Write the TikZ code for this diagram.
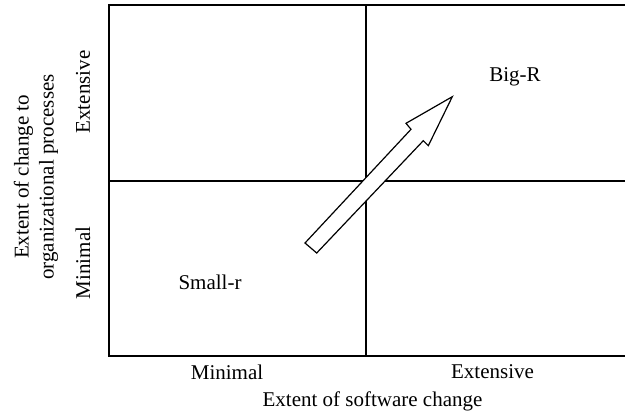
\documentclass[tikz,border=0pt]{standalone}
\usepackage{fontspec}
\setmainfont{Liberation Serif}
\begin{document}
\begin{tikzpicture}[x=0.5pt,y=-0.5pt,
  lbl/.style={inner sep=0pt,font=\fontsize{10.5}{12.5}\selectfont},
  frame/.style={line width=0.65pt,black},
  bigarrow/.style={line width=0.6pt,black,fill=white,line join=miter}]
\useasboundingbox (0,0) rectangle (625,418);
% frame and quadrant lines
\draw[frame] (625,5) -- (109,5) -- (109,356) -- (625,356);
\draw[frame] (366,5) -- (366,356);
\draw[frame] (109,181) -- (625,181);
% hollow arrow
\draw[bigarrow] (305,243) -- (411,129.3) -- (406,123.3) -- (452.3,96.7)
  -- (428.3,145.7) -- (423.3,140.7) -- (316.7,253) -- cycle;
% quadrant labels
\node[lbl] (bigr) at (515,77) {Big-R};
\node[lbl] (smallr) at (210,282) {Small-r};
% horizontal axis labels
\node[lbl] (xmin) at (227,372) {Minimal};
\node[lbl] (xext) at (492.5,372) {Extensive};
\node[lbl] (xtitle) at (372.5,401) {Extent of software change};
% vertical axis labels
\node[lbl,rotate=90] (yext) at (83,92) {Extensive};
\node[lbl,rotate=90] (ymin) at (83,263) {Minimal};
\node[lbl,rotate=90,align=center] (ytitle) at (36,177) {Extent of change to\\organizational processes};
\end{tikzpicture}
\end{document}
